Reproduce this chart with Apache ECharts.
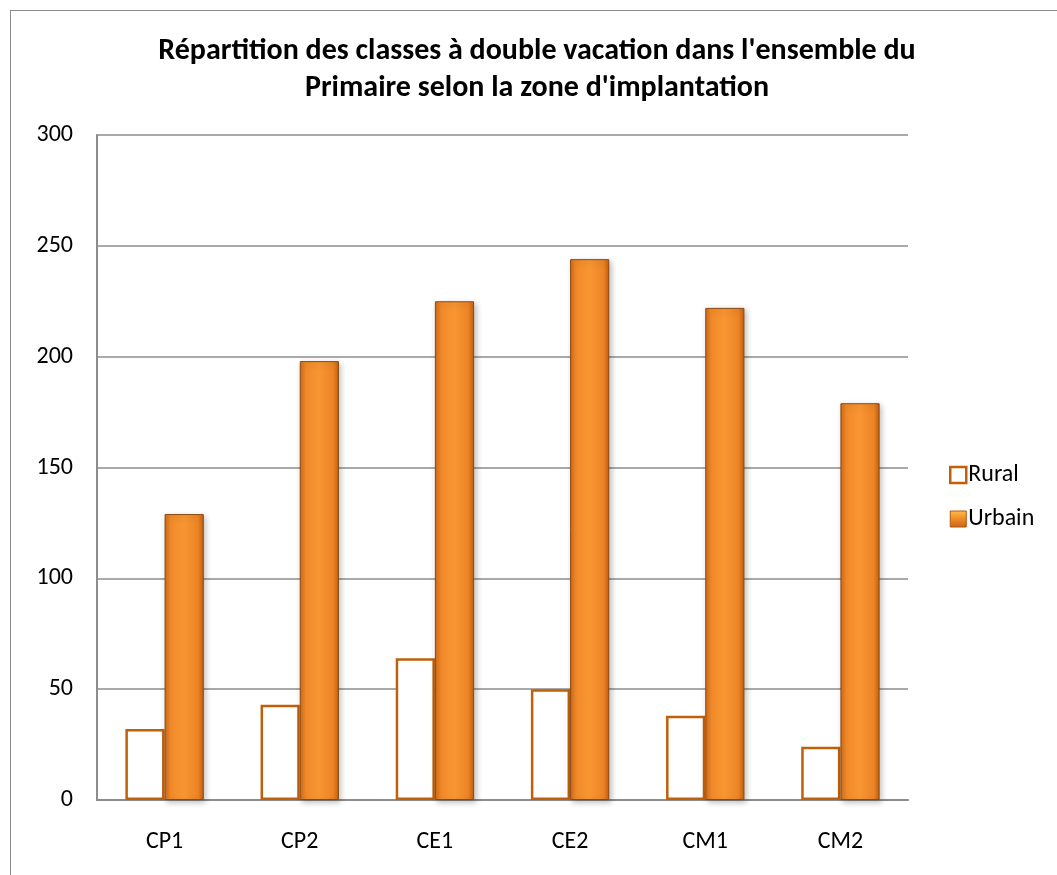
<!DOCTYPE html>
<html>
<head>
<meta charset="utf-8">
<script src="https://cdn.jsdelivr.net/npm/echarts@6/dist/echarts.min.js"></script>
<style>
  html, body { margin: 0; padding: 0; background: #fff; }
  #frame { position: absolute; left: 10px; top: 10px; width: 1060px; height: 880px; border: 1px solid #8c8c8c; box-sizing: border-box; }
  #chart { position: absolute; left: 0; top: 0; width: 1057px; height: 875px; }
</style>
</head>
<body>
<div id="frame"></div>
<div id="chart"></div>
<script>
const categories = ['CP1', 'CP2', 'CE1', 'CE2', 'CM1', 'CM2']
const rural = [32, 43, 64, 50, 38, 24]
const urbain = [129, 198, 225, 244, 222, 179]
const yTicks = { min: 0, max: 300, interval: 50 }

const font = 'Calibri, Carlito, "Open Sans", sans-serif'

const urbainFill = new echarts.graphic.LinearGradient(0, 0, 1, 0, [
  { offset: 0, color: '#d06a18' },
  { offset: 0.15, color: '#f28a2a' },
  { offset: 0.5, color: '#f89632' },
  { offset: 0.85, color: '#ec8426' },
  { offset: 1, color: '#c4600f' }
])

const legendFill = new echarts.graphic.LinearGradient(0, 0, 0, 1, [
  { offset: 0, color: '#ffc04a' },
  { offset: 0.5, color: '#ee8a26' },
  { offset: 1, color: '#c9651a' }
])

const chart = echarts.init(document.getElementById('chart'), null, { renderer: 'canvas' })

chart.setOption({
  animation: false,
  backgroundColor: 'transparent',
  title: {
    text: "Répartition des classes à double vacation dans l'ensemble du\nPrimaire selon la zone d'implantation",
    left: 532,
    textAlign: 'center',
    top: 28,
    textStyle: { fontFamily: font, fontSize: 30, fontWeight: 'bold', color: '#000', lineHeight: 37 }
  },
  legend: {
    orient: 'vertical',
    left: 944,
    top: 458,
    itemGap: 20,
    itemWidth: 16,
    itemHeight: 16,
    textStyle: { fontFamily: font, fontSize: 24, color: '#000', padding: [0, 0, 0, -3] },
    data: [
      { name: 'Rural', icon: 'rect', itemStyle: { color: '#fff', borderColor: '#c0600a', borderWidth: 2.5 } },
      { name: 'Urbain', icon: 'rect', itemStyle: { color: legendFill, borderColor: '#b0570c', borderWidth: 1 } }
    ]
  },
  grid: { left: 97, right: 149, top: 135, bottom: 75 },
  xAxis: {
    type: 'category',
    data: categories,
    axisLine: { lineStyle: { color: '#8c8c8c', width: 2 } },
    axisTick: { show: false },
    axisLabel: { fontFamily: font, fontSize: 24, color: '#000', margin: 30 }
  },
  yAxis: {
    type: 'value',
    ...yTicks,
    axisLine: { show: true, lineStyle: { color: '#8c8c8c', width: 2 } },
    axisTick: { show: false },
    splitLine: { lineStyle: { color: '#8c8c8c', width: 1.5 } },
    axisLabel: { fontFamily: font, fontSize: 24, color: '#000', margin: 24 }
  },
  series: [
    {
      name: 'Rural',
      type: 'bar',
      data: rural,
      barGap: '0%',
      barCategoryGap: '42%',
      itemStyle: { color: '#fff', borderColor: '#c0600a', borderWidth: 2.5 }
    },
    {
      name: 'Urbain',
      type: 'bar',
      data: urbain,
      itemStyle: {
        color: urbainFill,
        borderColor: '#8a4a10',
        borderWidth: 1,
        shadowColor: 'rgba(0,0,0,0.25)',
        shadowBlur: 6,
        shadowOffsetX: 2,
        shadowOffsetY: 2
      }
    }
  ]
})
</script>
</body>
</html>
